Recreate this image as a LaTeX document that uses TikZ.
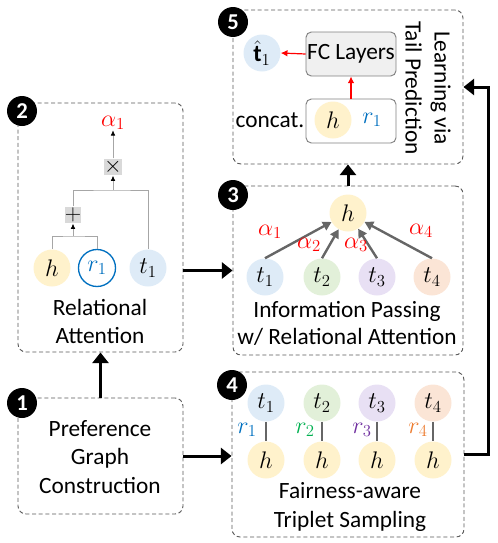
\RequirePackage{fix-cm}
\documentclass[tikz,border=0pt]{standalone}
\usepackage{fontspec}
\setmainfont{Carlito}
\usetikzlibrary{arrows.meta,fit}
\definecolor{hfill}{HTML}{FFF2CC}
\definecolor{tfillA}{HTML}{DEEBF7}
\definecolor{tfillB}{HTML}{E2F0D9}
\definecolor{tfillC}{HTML}{E8E0F4}
\definecolor{tfillD}{HTML}{FBE5D6}
\definecolor{rcolA}{HTML}{0070C0}
\definecolor{rcolB}{HTML}{00B050}
\definecolor{rcolC}{HTML}{7030A0}
\definecolor{rcolD}{HTML}{ED7D31}
\definecolor{panelgray}{HTML}{595959}
\definecolor{edgegray}{HTML}{666666}
\newcommand\mytxt{\fontsize{17.5}{21}\selectfont}
\newcommand\myent{\fontsize{18}{18}\selectfont}
\tikzset{
  panel/.style={draw=panelgray, dash pattern=on 3pt off 2pt, rounded corners=6pt, line width=0.7pt, inner sep=0pt},
  badge/.style={circle, fill=black, text=white, minimum size=22.5pt, inner sep=0pt, font=\fontsize{17}{17}\selectfont\bfseries},
  ent/.style={circle, minimum size=27.75pt, inner sep=0pt, font=\myent},
  lbl/.style={align=center, font=\mytxt, inner sep=0pt},
  bigarrow/.style={line width=2.25pt, -{Triangle[length=8pt,width=12pt]}},
  graylink/.style={draw=gray!70, line width=0.6pt},
  smallarrow/.style={draw=gray!70, line width=0.6pt, -{Latex[length=4pt,width=3.5pt,fill=black,color=black]}},
  opbox/.style={fill=gray!30, minimum size=12.5pt, inner sep=0pt, font=\fontsize{17}{17}\selectfont},
  attarrow/.style={draw=edgegray, line width=1.8pt, -{Triangle[length=6.5pt,width=7pt]}},
  tripline/.style={draw=edgegray, line width=2pt},
  redarrow/.style={draw=red, line width=0.9pt, -{Latex[length=5pt,width=5pt]}},
  alph/.style={text=red, font=\myent, inner sep=0pt},
  rlab/.style={font=\myent, inner sep=0pt},
  fcbox/.style={draw=gray, rounded corners=4pt, line width=0.7pt, inner sep=0pt}
}
\begin{document}
\begin{tikzpicture}[x=0.75pt,y=-0.75pt]
\useasboundingbox (0,0) rectangle (498,543);

% panels
\node[panel, fit={(18,398)(183,514)}] (p1) {};
\node[panel, fit={(18,103)(183,352)}] (p2) {};
\node[panel, fit={(233,186)(463,355)}] (p3) {};
\node[panel, fit={(232,372)(464,537)}] (p4) {};
\node[panel, fit={(233,10)(463,164)}] (p5) {};

% badges
\node[badge] (b1) at (22,403) {1};
\node[badge] (b2) at (22,111) {2};
\node[badge] (b3) at (233,195) {3};
\node[badge] (b4) at (232,385) {4};
\node[badge] (b5) at (233,22) {5};

% panel 1
\node[lbl, font=\fontsize{17.5}{21.4}\selectfont] (l1) at (100,457) {Preference\\Graph\\Construction};

% panel 2
\node[ent, fill=hfill] (h2) at (52,268) {$h$};
\node[ent, draw=rcolA, line width=1pt, fill=white, text=rcolA] (r2) at (97,268) {$r_1$};
\node[ent, fill=tfillA] (t2) at (148,268) {$t_1$};
\node[opbox] (plus) at (73,215) {$+$};
\node[opbox] (times) at (113,167) {$\times$};
\node[alph] (a2) at (113,123) {$\alpha_1$};
\coordinate (j1) at (73,236);
\coordinate (j2) at (113,190);
\draw[graylink] (h2.north) |- (j1) -| (r2.north);
\draw[smallarrow] (j1) -- (plus.south);
\draw[graylink] (plus.north) |- (j2) -| (t2.north);
\draw[smallarrow] (j2) -- (times.south);
\draw[smallarrow] (times.north) -- (a2.south);
\node[lbl, font=\fontsize{17.5}{21}\selectfont] (l2) at (100,321) {Relational\\Attention};

% panel 3
\node[ent, fill=hfill] (h3) at (348,213) {$h$};
\node[ent, fill=tfillA] (t31) at (265,277) {$t_1$};
\node[ent, fill=tfillB] (t32) at (322,277) {$t_2$};
\node[ent, fill=tfillC] (t33) at (377,277) {$t_3$};
\node[ent, fill=tfillD] (t34) at (432,277) {$t_4$};
\draw[attarrow] (t31.north) -- (h3);
\draw[attarrow] (t32.north) -- (h3);
\draw[attarrow] (t33.north) -- (h3);
\draw[attarrow] (t34.north) -- (h3);
\node[alph] (a31) at (270,232) {$\alpha_1$};
\node[alph] (a32) at (309,245) {$\alpha_2$};
\node[alph] (a33) at (356,245) {$\alpha_3$};
\node[alph] (a34) at (421,231) {$\alpha_4$};
\node[lbl, font=\fontsize{17.5}{20.25}\selectfont] (l3) at (347,323) {Information Passing\\w/ Relational Attention};

% panel 4
\node[ent, fill=tfillA] (t41) at (266,403) {$t_1$};
\node[ent, fill=tfillB] (t42) at (322,403) {$t_2$};
\node[ent, fill=tfillC] (t43) at (377,403) {$t_3$};
\node[ent, fill=tfillD] (t44) at (433,403) {$t_4$};
\node[ent, fill=hfill] (h41) at (266,460) {$h$};
\node[ent, fill=hfill] (h42) at (322,460) {$h$};
\node[ent, fill=hfill] (h43) at (377,460) {$h$};
\node[ent, fill=hfill] (h44) at (433,460) {$h$};
\draw[tripline] (t41) -- (h41);
\draw[tripline] (t42) -- (h42);
\draw[tripline] (t43) -- (h43);
\draw[tripline] (t44) -- (h44);
\node[rlab, text=rcolA] (r41) at (247,430) {$r_1$};
\node[rlab, text=rcolB] (r42) at (305,430) {$r_2$};
\node[rlab, text=rcolC] (r43) at (362,430) {$r_3$};
\node[rlab, text=rcolD] (r44) at (418,430) {$r_4$};
\node[lbl, font=\fontsize{17.5}{21.75}\selectfont] (l4) at (350,507) {Fairness-aware\\Triplet Sampling};

% panel 5
\node[ent, fill=tfillA] (that) at (262,53) {$\hat{\mathbf{t}}_1$};
\node[fcbox, fill=gray!12, fit={(306,32)(396,76)}] (fc) {};
\node[lbl] (fctxt) at (fc.center) {FC Layers};
\node[fcbox, fill=white, fit={(306,99)(396,143)}] (cc) {};
\node[ent, fill=hfill] (h5) at (333,120) {$h$};
\node[rlab, text=rcolA] (r5) at (372,120) {$r_1$};
\node[lbl] (cclbl) at (270,120) {concat.};
\draw[redarrow] (cc.north) -- (fc.south);
\draw[redarrow] (fc.west) -- (that.east);
\node[lbl, rotate=-90, font=\fontsize{17.5}{21.75}\selectfont] (l5) at (428,88) {Learning via\\Tail Prediction};

% connectors
\draw[bigarrow] (p1.north) -- (p2.south);
\draw[bigarrow] (p1.east) -- (p1.east -| p4.west);
\draw[bigarrow] (p2.east |- p3.west) -- (p3.west);
\draw[bigarrow] (p3.north) -- (p5.south);
\draw[bigarrow] (p4.east) -- ++(24,0) |- (p5.east);
\end{tikzpicture}
\end{document}
